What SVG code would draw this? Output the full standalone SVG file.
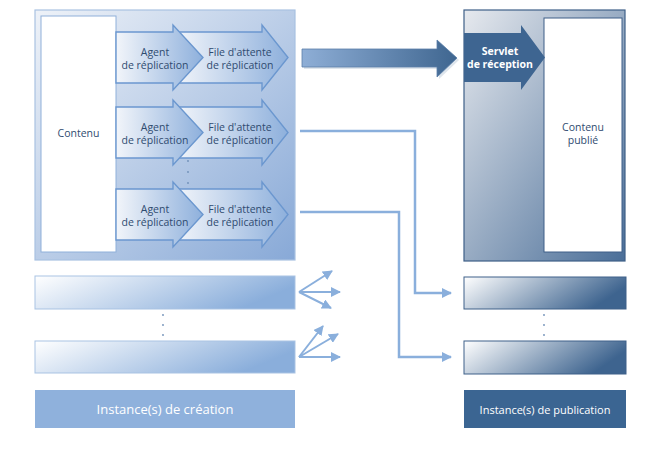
<svg xmlns="http://www.w3.org/2000/svg" width="669" height="454" viewBox="0 0 669 454">
<defs>
<linearGradient id="gLeftBox" x1="0" y1="0" x2="1" y2="1">
<stop offset="0" stop-color="#eef2f8"/>
<stop offset="1" stop-color="#88a9d7"/>
</linearGradient>
<linearGradient id="gRightBox" x1="0" y1="0" x2="1" y2="1">
<stop offset="0" stop-color="#e6e9ee"/>
<stop offset="1" stop-color="#4a6e98"/>
</linearGradient>
<linearGradient id="gArrow" x1="0" y1="0" x2="1" y2="0">
<stop offset="0" stop-color="#f2f5fa"/>
<stop offset="1" stop-color="#8eb0dc"/>
</linearGradient>
<linearGradient id="gBig" x1="0" y1="0" x2="1" y2="0">
<stop offset="0" stop-color="#8eaed6"/>
<stop offset="1" stop-color="#3f6690"/>
</linearGradient>
<linearGradient id="gBarL" x1="0" y1="0" x2="1" y2="0.3">
<stop offset="0" stop-color="#ffffff"/>
<stop offset="1" stop-color="#8aaedb"/>
</linearGradient>
<linearGradient id="gBarR" x1="0" y1="0" x2="1" y2="0.3">
<stop offset="0" stop-color="#ffffff"/>
<stop offset="1" stop-color="#3e648f"/>
</linearGradient>
<marker id="ah" viewBox="0 0 10 10" refX="9" refY="5" markerWidth="4" markerHeight="4" orient="auto" markerUnits="strokeWidth">
<path d="M0,0 L10,5 L0,10 Z" fill="#8aafdc"/>
</marker>
<marker id="ahs" viewBox="0 0 10 10" refX="9" refY="5" markerWidth="5" markerHeight="5" orient="auto" markerUnits="strokeWidth">
<path d="M0,0 L10,5 L0,10 Z" fill="#8aafdc"/>
</marker>
<style>
text{font-family:"Open Sans","Liberation Sans",sans-serif;}
.lbl{font-size:10.5px;fill:#2f4b70;text-anchor:middle;}
.wl{font-size:10.5px;fill:#ffffff;text-anchor:middle;font-weight:bold;}
.inst{font-size:13px;fill:#ffffff;text-anchor:middle;}
.instp{font-size:11px;fill:#ffffff;text-anchor:middle;}
.arr{fill:url(#gArrow);stroke:#6b97cf;stroke-width:1.4;}
.conn{fill:none;stroke:#8aafdc;stroke-width:2.5;}
.fan{fill:none;stroke:#8aafdc;stroke-width:2;}
.dot{fill:#6f8fb8;}
</style>
</defs>

<g id="author-box">
<rect x="35" y="10" width="260" height="250" fill="url(#gLeftBox)" stroke="#a9c2e2" stroke-width="1.2"/>
</g>
<g id="contenu">
<rect x="41" y="16" width="75" height="236" fill="#ffffff" stroke="#8fb0da" stroke-width="1"/>
<text class="lbl" x="78.5" y="137">Contenu</text>
</g>

<g id="row1">
<path class="arr" d="M176,32 H262 V25 L288,57.5 L262,90 V83 H176 Z"/>
<path class="arr" d="M116,32 H173 V25 L203,57.5 L173,90 V83 H116 Z"/>
<text class="lbl" x="155" y="56">Agent</text>
<text class="lbl" x="155" y="69">de réplication</text>
<text class="lbl" x="240" y="56">File d'attente</text>
<text class="lbl" x="240" y="69">de réplication</text>
</g>
<g id="row2">
<path class="arr" d="M176,107 H262 V100 L288,132.5 L262,165 V158 H176 Z"/>
<path class="arr" d="M116,107 H173 V100 L203,132.5 L173,165 V158 H116 Z"/>
<text class="lbl" x="155" y="131">Agent</text>
<text class="lbl" x="155" y="144">de réplication</text>
<text class="lbl" x="240" y="131">File d'attente</text>
<text class="lbl" x="240" y="144">de réplication</text>
</g>
<g id="dots-mid">
<circle class="dot" cx="188" cy="161" r="0.9"/>
<circle class="dot" cx="188" cy="172" r="0.9"/>
<circle class="dot" cx="188" cy="183" r="0.9"/>
</g>
<g id="row3">
<path class="arr" d="M176,189 H262 V182 L288,214.5 L262,247 V240 H176 Z"/>
<path class="arr" d="M116,189 H173 V182 L203,214.5 L173,247 V240 H116 Z"/>
<text class="lbl" x="155" y="213">Agent</text>
<text class="lbl" x="155" y="226">de réplication</text>
<text class="lbl" x="240" y="213">File d'attente</text>
<text class="lbl" x="240" y="226">de réplication</text>
</g>

<g id="publish-box">
<rect x="464" y="10" width="161" height="251" fill="url(#gRightBox)" stroke="#3e5f88" stroke-width="1.2"/>
</g>
<g id="contenu-publie">
<rect x="544" y="18" width="78" height="234" fill="#ffffff" stroke="#3e5f88" stroke-width="1"/>
<text class="lbl" x="583" y="131">Contenu</text>
<text class="lbl" x="583" y="144">publié</text>
</g>
<g id="servlet">
<path d="M464,33 H521 V25 L545,57.5 L521,90 V82 H464 Z" fill="#3e6591"/>
<text class="wl" x="500" y="55">Servlet</text>
<text class="wl" x="500" y="68">de réception</text>
</g>

<g id="author-bars">
<rect x="35" y="276" width="260" height="33" fill="url(#gBarL)" stroke="#a9c3e3" stroke-width="1"/>
<rect x="35" y="341" width="260" height="32" fill="url(#gBarL)" stroke="#a9c3e3" stroke-width="1"/>
<circle class="dot" cx="163" cy="315" r="0.9"/>
<circle class="dot" cx="163" cy="325" r="0.9"/>
<circle class="dot" cx="163" cy="335" r="0.9"/>
</g>
<g id="author-label">
<rect x="35" y="390" width="260" height="38" fill="#8fb1dc"/>
<text class="inst" x="165" y="414">Instance(s) de création</text>
</g>

<g id="publish-bars">
<rect x="464" y="277" width="162" height="32" fill="url(#gBarR)" stroke="#3e6189" stroke-width="1"/>
<rect x="464" y="341" width="162" height="33" fill="url(#gBarR)" stroke="#3e6189" stroke-width="1"/>
<circle class="dot" cx="544" cy="315" r="0.9"/>
<circle class="dot" cx="544" cy="325" r="0.9"/>
<circle class="dot" cx="544" cy="335" r="0.9"/>
</g>
<g id="publish-label">
<rect x="464" y="390" width="162" height="38" fill="#3b6592"/>
<text class="instp" x="545" y="413.5">Instance(s) de publication</text>
</g>

<g id="connectors">
<path d="M304,51 H439 V42 L459,60 L439,79 V69 H304 Z" fill="#c8d3e0" opacity="0.6"/>
<path d="M302,49 H437 V40 L457,58 L437,77 V67 H302 Z" fill="url(#gBig)" stroke="#5a7fa8" stroke-width="0.8"/>
<path class="conn" d="M300,131 H415 V293 H451" marker-end="url(#ah)"/>
<path class="conn" d="M300,212 H399 V357 H451" marker-end="url(#ah)"/>
<path class="fan" d="M299,292 L332,271" marker-end="url(#ahs)"/>
<path class="fan" d="M299,292 L340,292" marker-end="url(#ahs)"/>
<path class="fan" d="M299,292 L331,308" marker-end="url(#ahs)"/>
<path class="fan" d="M299,357 L323,326" marker-end="url(#ahs)"/>
<path class="fan" d="M299,357 L338,334" marker-end="url(#ahs)"/>
<path class="fan" d="M299,357 L340,357" marker-end="url(#ahs)"/>
</g>
</svg>
